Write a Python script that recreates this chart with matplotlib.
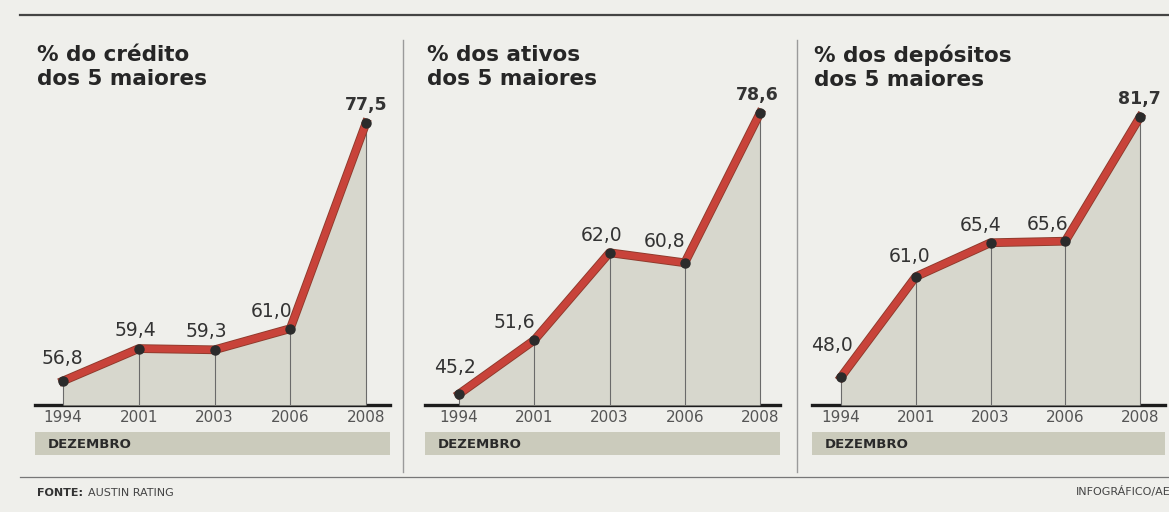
#!/usr/bin/env python3
"""Concentração bancária: participação dos 5 maiores bancos."""

import matplotlib
matplotlib.use('Agg')
import matplotlib.pyplot as plt
import matplotlib.patheffects as pe

W, H = 1169, 512

years = ['1994', '2001', '2003', '2006', '2008']
credito = [56.8, 59.4, 59.3, 61.0, 77.5]
ativos = [45.2, 51.6, 62.0, 60.8, 78.6]
depositos = [48.0, 61.0, 65.4, 65.6, 81.7]
titles = ['% do crédito\ndos 5 maiores',
          '% dos ativos\ndos 5 maiores',
          '% dos depósitos\ndos 5 maiores']

PAPER = '#efefeb'
FILL = '#d7d7cd'
RED = '#c8433a'
TEXT = '#333333'

plt.rcParams['font.family'] = ['DejaVu Sans']

fig = plt.figure(figsize=(W / 100, H / 100), dpi=100)
fig.patch.set_facecolor(PAPER)

# overlay in pixel coordinates for decoration
bg = fig.add_axes([0, 0, 1, 1])
bg.set_xlim(0, W)
bg.set_ylim(H, 0)
bg.axis('off')
bg.set_facecolor(PAPER)

bg.plot([20, W], [15, 15], color='#444444', lw=1.6)
bg.plot([20, W], [477, 477], color='#777777', lw=0.9)
for xs in (403, 797):
    bg.plot([xs, xs], [40, 472], color='#9a9a9a', lw=1.0)

# label offsets in pixels (dx, gap above point)
panels = [
    (35, 390, 63, 75.75, (54.87, 79.35), credito,
     [(-1, 13), (-3, 9), (-8, 9), (-19, 8), (0, 9)]),
    (425, 780, 459, 75.25, (43.89, 80.16), ativos,
     [(-4, 17), (-20, 8), (-8, 8), (-20, 12), (-3, 9)]),
    (812, 1165, 841, 74.75, (44.37, 83.9), depositos,
     [(-9, 22), (-6, 11), (-10, 8), (-18, 7), (-1, 9)]),
]

base_px, top_px = 405, 100
PT = 72 / 100  # pixels -> points
for (left, right, x0, dx, ylim, vals, offs), title in zip(panels, titles):
    ax = fig.add_axes([left / W, (H - base_px) / H, (right - left) / W,
                       (base_px - top_px) / H])
    ax.set_facecolor('none')
    ax.set_xlim((left - x0) / dx, (right - x0) / dx)
    ax.set_ylim(*ylim)
    for s in ax.spines.values():
        s.set_visible(False)
    ax.set_xticks([])
    ax.set_yticks([])

    xs = list(range(len(vals)))
    ax.fill_between(xs, vals, ylim[0], color=FILL, lw=0, zorder=1)
    ax.vlines(xs, ylim[0], vals, color='#6a6a6a', lw=0.8, zorder=2)
    ax.plot(xs, vals, color=RED, lw=5, solid_joinstyle='round', zorder=3,
            path_effects=[pe.Stroke(linewidth=6.3, foreground='#8e3a2c'),
                          pe.Normal()])
    ax.plot(xs, vals, 'o', color='#2b2b2b', ms=6.5, zorder=4)

    for i, v in enumerate(vals):
        last = i == len(vals) - 1
        ox, oy = offs[i]
        ax.annotate(f'{v:.1f}'.replace('.', ','), (i, v),
                    xytext=(ox * PT, oy * PT),
                    textcoords='offset points', ha='center', va='bottom',
                    fontsize=13.5 if not last else 12.5,
                    fontweight='bold' if last else 'normal',
                    color=TEXT, zorder=5)

    # baseline and ticks (pixel overlay)
    bg.plot([left, right], [base_px, base_px], color='#1c1c1c', lw=2.4,
            zorder=6)
    for i, yr in enumerate(years):
        bg.text(x0 + i * dx, 418, yr, ha='center', va='center',
                fontsize=11, color='#555555')
    bg.add_patch(plt.Rectangle((left, 432), right - left, 23,
                               color='#cbcbbc', lw=0))
    bg.text(left + 13, 444, 'DEZEMBRO', ha='left', va='center',
            fontsize=9.5, fontweight='bold', color='#2a2a2a')
    bg.text(left + 2, 45, title, ha='left', va='top', fontsize=15.5,
            fontweight='bold', color='#262626', linespacing=1.25)

bg.text(37, 493, 'FONTE:', ha='left', va='center', fontsize=8,
        fontweight='bold', color='#333333')
bg.text(88, 493, 'AUSTIN RATING', ha='left', va='center', fontsize=8,
        color='#444444')
bg.text(W + 2, 492, 'INFOGRÁFICO/AE', ha='right', va='center', fontsize=8,
        color='#444444')

fig.savefig('out.png', dpi=100, facecolor=PAPER)
